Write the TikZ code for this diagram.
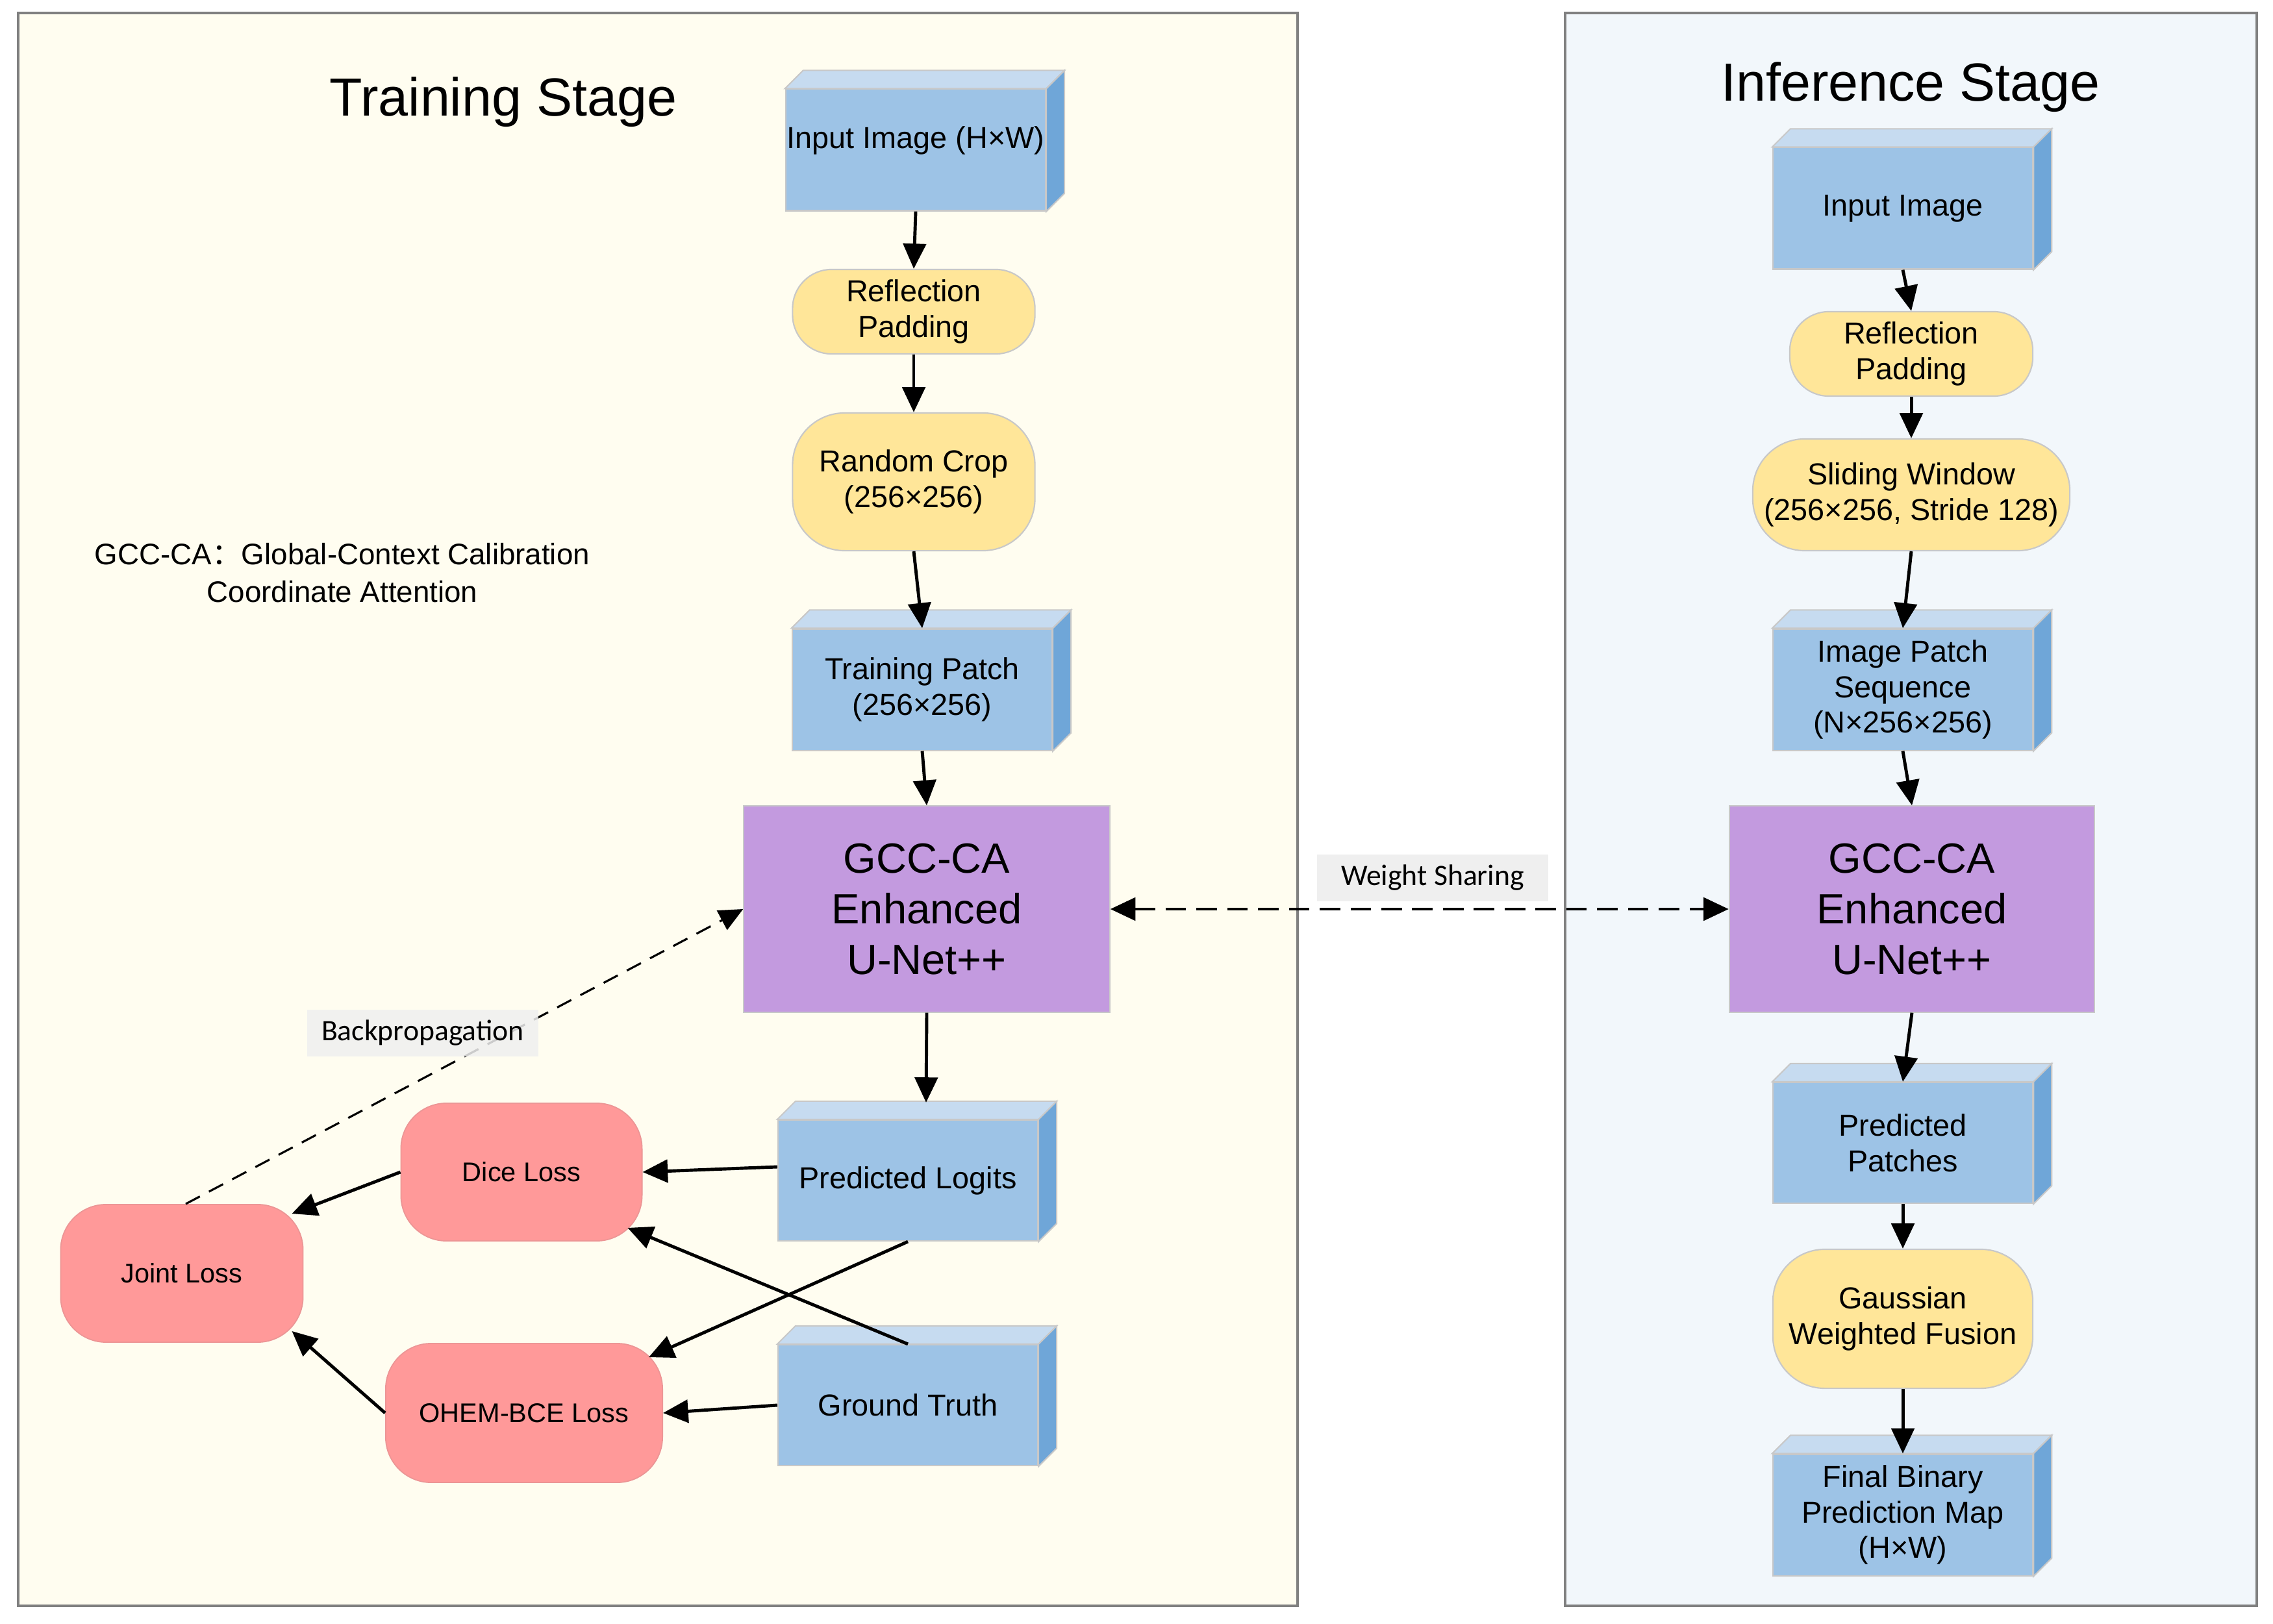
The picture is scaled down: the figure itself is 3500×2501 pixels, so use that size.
\documentclass[tikz,border=0pt]{standalone}
\usepackage{fontspec}
\setmainfont{Liberation Sans}
\newfontfamily\labelfont{Carlito}
\newfontfamily\cjkfont{Noto Sans CJK SC}
\usetikzlibrary{arrows.meta,calc}

\definecolor{cubeblue}{HTML}{9DC3E6}
\definecolor{cubetop}{HTML}{C6DBF0}
\definecolor{cubeside}{HTML}{6FA6D8}
\definecolor{procyellow}{HTML}{FFE699}
\definecolor{netpurple}{HTML}{C39ADF}
\definecolor{losspink}{HTML}{FF9999}
\definecolor{edgegray}{HTML}{C8C8C8}
\definecolor{trainbg}{HTML}{FFFDF0}
\definecolor{infbg}{HTML}{F2F7FB}
\definecolor{framegray}{HTML}{808080}
\definecolor{labelbg}{HTML}{EFEFEF}

\newcommand{\cubefaces}[1]{%
  \filldraw[fill=cubetop, draw=edgegray, line width=0.6pt]
    (#1.north west) -- ++(28,-28) -- ($(#1.north east)+(28,-28)$) -- (#1.north east) -- cycle;
  \filldraw[fill=cubeside, draw=edgegray, line width=0.6pt]
    (#1.north east) -- ($(#1.north east)+(28,-28)$) -- ($(#1.south east)+(28,-28)$) -- (#1.south east) -- cycle;
}

\begin{document}
\begin{tikzpicture}[x=0.01cm, y=-0.01cm,
  cube/.style={rectangle, fill=cubeblue, draw=edgegray, line width=0.6pt, inner sep=0pt,
    align=center, minimum width=4cm, minimum height=1.87cm, font=\fontsize{13.3}{15.6}\selectfont},
  proc/.style={rectangle, fill=procyellow, draw=edgegray, line width=0.6pt, inner sep=0pt,
    align=center, font=\fontsize{13.3}{15.6}\selectfont},
  net/.style={rectangle, fill=netpurple, draw=edgegray, line width=0.6pt, inner sep=0pt,
    align=center, minimum width=5.63cm, minimum height=3.17cm, font=\fontsize{18.5}{22.2}\selectfont},
  loss/.style={rectangle, rounded corners=0.7cm, fill=losspink, draw=losspink!85!gray, line width=0.5pt,
    inner sep=0pt, align=center, minimum height=2.12cm, font=\fontsize{11.8}{14}\selectfont},
  tag/.style={rectangle, fill=labelbg, inner sep=0pt, minimum width=3.55cm, minimum height=0.71cm,
    font=\labelfont\fontsize{13}{15}\selectfont},
  arr/.style={-{Triangle[length=11pt,width=10pt]}, line width=1.4pt},
  title/.style={anchor=base, font=\fontsize{23.5}{28}\selectfont},
  frame/.style={draw=framegray, line width=1.2pt}
]
\useasboundingbox (0,0) rectangle (3500,2501);
\fill[white] (0,0) rectangle (3500,2501);

% stage frames
\filldraw[frame, fill=trainbg] (28,20) rectangle (1998,2473);
\filldraw[frame, fill=infbg] (2410,20) rectangle (3475,2473);

\node[title] (ttitle) at (775,179) {Training Stage};
\node[title] (ititle) at (2942,156) {Inference Stage};

\node[align=center, font=\fontsize{13}{16.5}\selectfont] (note) at (527,882)
  {GCC-CA{\cjkfont ：}Global-Context Calibration\\Coordinate Attention};

% ---------------- training column
\node[cube] (tin) at (1410,231) {\raisebox{0.15cm}[\height][\depth]{Input Image (H×W)}};
\cubefaces{tin}
\node[proc, rounded corners=0.6cm, minimum width=3.73cm, minimum height=1.3cm] (trp) at (1407,480) {Reflection\\Padding};
\node[proc, rounded corners=0.8cm, minimum width=3.73cm, minimum height=2.12cm] (trc) at (1407,742) {Random Crop\\(256×256)};
\node[cube] (ttp) at (1420,1062) {Training Patch\\(256×256)};
\cubefaces{ttp}
\node[net] (tg) at (1427,1400) {GCC-CA\\Enhanced\\U-Net++};
\node[cube, minimum height=1.86cm] (tpl) at (1398,1818) {Predicted Logits};
\cubefaces{tpl}
\node[cube, minimum height=1.86cm] (tgt) at (1398,2164) {Ground Truth};
\cubefaces{tgt}

\node[loss, minimum width=3.71cm] (dice) at (803,1805) {Dice Loss};
\node[loss, minimum width=3.73cm] (joint) at (280,1961) {Joint Loss};
\node[loss, minimum width=4.26cm, minimum height=2.14cm] (ohem) at (807,2176) {OHEM-BCE Loss};

% ---------------- inference column
\node[cube] (iin) at (2930,321) {Input Image};
\cubefaces{iin}
\node[proc, rounded corners=0.6cm, minimum width=3.74cm, minimum height=1.3cm] (irp) at (2943,545) {Reflection\\Padding};
\node[proc, rounded corners=0.8cm, minimum width=4.88cm, minimum height=1.72cm] (isw) at (2943,762) {Sliding Window\\(256×256, Stride 128)};
\node[cube] (ips) at (2930,1062) {Image Patch\\Sequence\\(N×256×256)};
\cubefaces{ips}
\node[net, minimum width=5.62cm] (ig) at (2944,1400) {GCC-CA\\Enhanced\\U-Net++};
\node[cube, minimum height=1.86cm] (ipp) at (2930,1760) {Predicted\\Patches};
\cubefaces{ipp}
\node[proc, rounded corners=0.8cm, minimum width=4cm, minimum height=2.14cm] (igw) at (2930,2031) {Gaussian\\Weighted Fusion};
\node[cube] (ifb) at (2930,2333) {Final Binary\\Prediction Map\\(H×W)};
\cubefaces{ifb}

% ---------------- training connectors
\draw[arr] (tin.south) -- (trp.north);
\draw[arr] (trp.south) -- (trc.north);
\draw[arr] (trc.south) -- (ttp.north);
\draw[arr] (ttp.south) -- (tg.north);
\draw[arr] (tg.south) -- ($(tpl.north)+(28,-26)$);
\draw[arr] ($(tpl.west)+(0,-21)$) -- (dice.east);
\draw[arr] (tgt.west) -- (ohem.east);
\draw[arr] (tpl.south) -- ($(ohem.north east)+(-22,22)$);
\draw[arr] (tgt.north) -- ($(dice.south east)+(-23,-21)$);
\draw[arr] (dice.west) -- ($(joint.north east)+(-18,15)$);
\draw[arr] (ohem.west) -- ($(joint.south east)+(-18,-18)$);
\draw[-{Triangle[length=10.5pt,width=9.5pt]}, line width=0.9pt, dash pattern=on 7pt off 4.5pt]
  ($(joint.north)+(6,0)$) -- (tg.west);
\node[tag, fill opacity=0.85, text opacity=1] (bp) at (651,1591) {Backpropagation};

% weight sharing
\draw[{Triangle[length=11pt,width=10pt]}-{Triangle[length=11pt,width=10pt]}, line width=1.4pt,
  dash pattern=on 9pt off 4.5pt] (tg.east) -- (ig.west);
\node[tag] (ws) at (2206,1352) {Weight Sharing};

% ---------------- inference connectors
\draw[arr] (iin.south) -- (irp.north);
\draw[arr] (irp.south) -- (isw.north);
\draw[arr] (isw.south) -- (ips.north);
\draw[arr] (ips.south) -- (ig.north);
\draw[arr] (ig.south) -- (ipp.north);
\draw[arr] (ipp.south) -- (igw.north);
\draw[arr] (igw.south) -- (ifb.north);
\end{tikzpicture}
\end{document}
